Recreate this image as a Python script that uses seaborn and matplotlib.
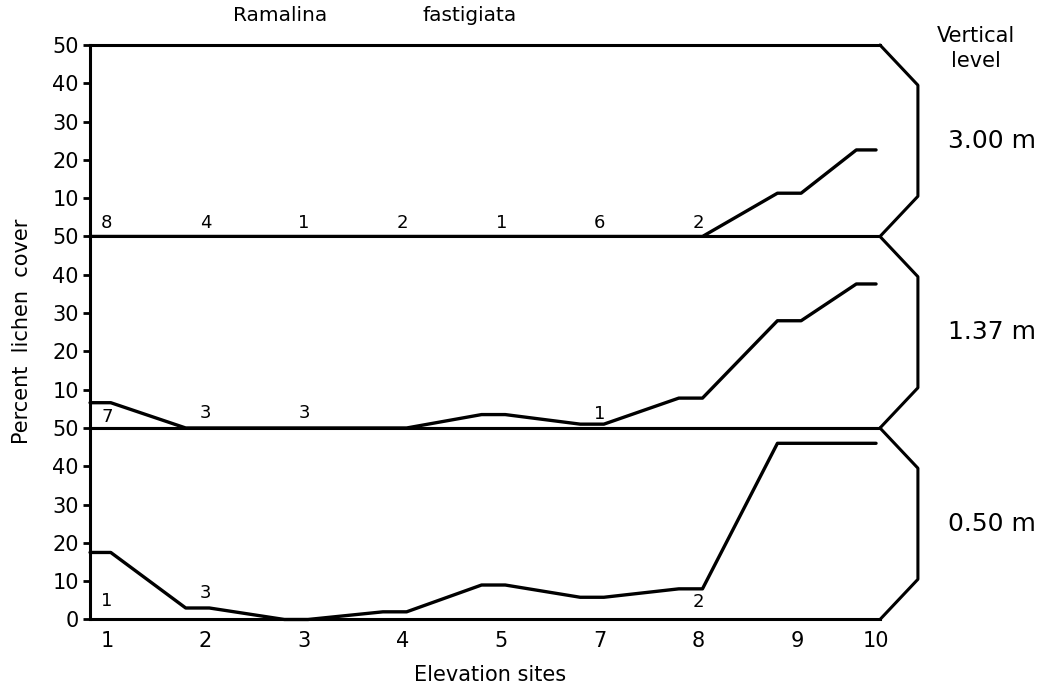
import numpy as np
import pandas as pd
import matplotlib
matplotlib.use("Agg")
import matplotlib.pyplot as plt
import seaborn as sns

# ---------------- data ----------------
sites = ["1", "2", "3", "4", "5", "7", "8", "9", "10"]
levels = ["3.00 m", "1.37 m", "0.50 m"]

cover_300 = [0, 0, 0, 0, 0, 0, 0, 11.3, 22.6]
cover_137 = [6.6, 0, 0, 0, 3.5, 1.0, 7.8, 28.0, 37.6]
cover_050 = [17.5, 3.0, 0, 2.0, 9.0, 5.8, 8.0, 46.0, 46.0]

counts_300 = ["8", "4", "1", "2", "1", "6", "2", "", ""]
counts_137 = ["7", "3", "3", "", "", "1", "", "", ""]
counts_050 = ["1", "3", "", "", "", "", "2", "", ""]

yticks_upper = [10, 20, 30, 40, 50]
yticks_lower = [0, 10, 20, 30, 40, 50]

# ---------------- layout ----------------
sns.set_theme(style="white")
plt.rcParams["font.family"] = ["DejaVu Sans"]
plt.rcParams["axes.linewidth"] = 2.2
plt.rcParams["text.color"] = "black"
plt.rcParams["axes.labelcolor"] = "black"
plt.rcParams["xtick.color"] = "black"
plt.rcParams["ytick.color"] = "black"

xpos = np.arange(len(sites), dtype=float)
xpos[-1] -= 0.2          # last site drawn closer, as in the original
XL = (-0.17, 7.84)
FLAT_L, FLAT_R = 0.2, 0.04   # short horizontal stroke at every site

def long_frame(values):
    rows = []
    for i, v in enumerate(values):
        rows.append((max(xpos[i] - FLAT_L, XL[0]), v))
        rows.append((xpos[i] + FLAT_R if i < len(values) - 1 else xpos[i], v))
    return pd.DataFrame(rows, columns=["x", "y"])

fig, axes = plt.subplots(3, 1, sharex=True, figsize=(10.52, 6.91), dpi=100)
fig.subplots_adjust(left=0.0856, right=0.8365, top=0.9349, bottom=0.1035, hspace=0)

series = [cover_300, cover_137, cover_050]
counts = [counts_300, counts_137, counts_050]
label_y = [[3.6] * 9, [2.9, 3.9, 3.8, 3.7, 3.7, 3.7, 3.7, 3.7, 3.7],
           [4.8, 7.0, 4.7, 4.7, 4.7, 4.7, 4.5, 4.7, 4.7]]

for k, ax in enumerate(axes):
    df = long_frame(series[k])
    sns.lineplot(data=df, x="x", y="y", sort=False, estimator=None,
                 color="black", lw=2.4, ax=ax, clip_on=False)
    for i, c in enumerate(counts[k]):
        if c:
            ax.text(xpos[i], label_y[k][i], c, ha="center", va="center",
                    fontsize=13, color="black")
    ax.set_xlim(*XL)
    ax.set_ylim(0, 50)
    ax.set_yticks(yticks_lower if k == 2 else yticks_upper)
    ax.tick_params(axis="y", direction="out", length=5, width=2,
                   labelsize=15, pad=3, left=True, colors="black")
    ax.tick_params(axis="x", length=0, labelsize=15, pad=8, colors="black")
    ax.spines["right"].set_visible(False)
    for s in ["left", "top", "bottom"]:
        ax.spines[s].set_color("black")
    ax.set_xlabel("")
    ax.set_ylabel("")
    # bracket on the right side
    ax.plot([1.0, 1.048, 1.048, 1.0], [1.0, 0.79, 0.21, 0.0],
            transform=ax.transAxes, clip_on=False, color="black", lw=2.2)
    ax.text(1.142, 0.5, levels[k], transform=ax.transAxes, ha="center",
            va="center", fontsize=18, color="black")

axes[-1].set_xticks(xpos)
axes[-1].set_xticklabels(sites)

fig.text(0.928, 0.93, "Vertical\nlevel", ha="center", va="center",
         fontsize=15, color="black", linespacing=1.35)
fig.text(0.266, 0.977, "Ramalina", ha="center", va="center", fontsize=14.5,
         color="black")
fig.text(0.446, 0.977, "fastigiata", ha="center", va="center", fontsize=14.5,
         color="black")
fig.text(0.021, 0.52, "Percent  lichen  cover", rotation=90, ha="center",
         va="center", fontsize=15, color="black")
fig.text(0.466, 0.023, "Elevation sites", ha="center", va="center",
         fontsize=15, color="black")

fig.savefig("out.png", dpi=100, facecolor="white")
